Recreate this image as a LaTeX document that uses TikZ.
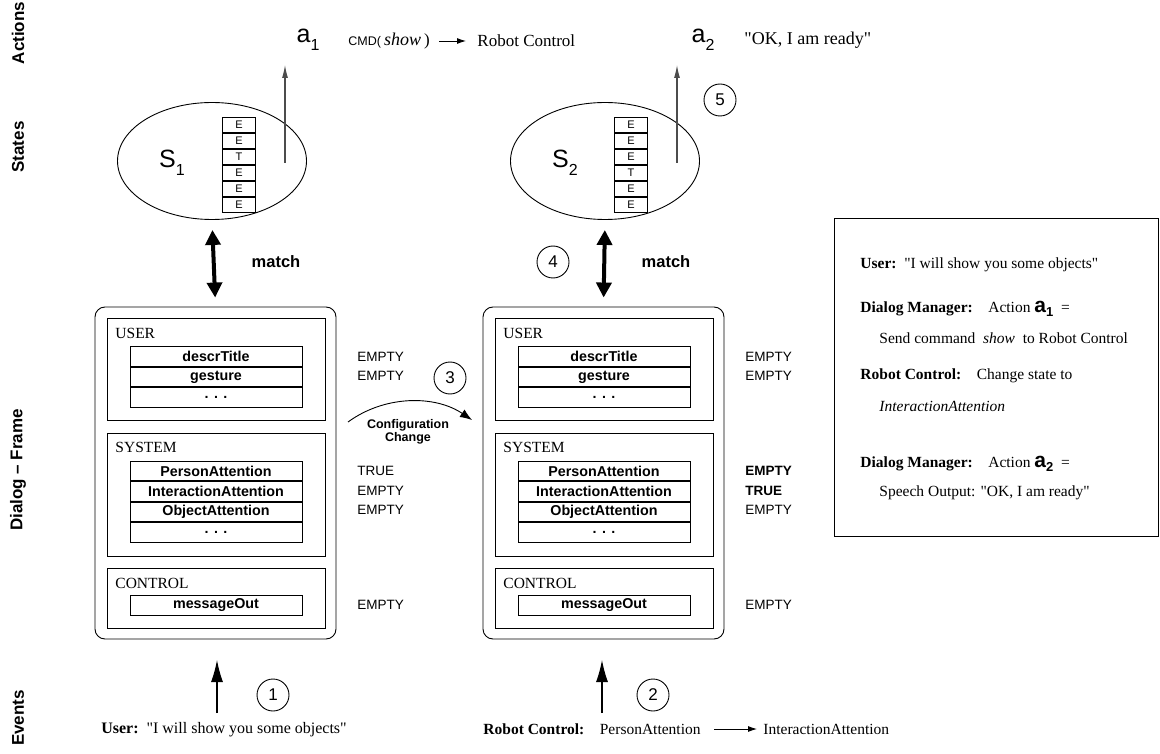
\documentclass[tikz,border=0pt]{standalone}
\usepackage{fontspec}
\setmainfont{Liberation Serif}[Ligatures=TeXOff]
\setsansfont{Liberation Sans}
\usetikzlibrary{arrows.meta,shapes.geometric,positioning}
\newcommand\myfs[1]{\fontsize{#1}{#1}\selectfont}
\begin{document}
\begin{tikzpicture}[x=1pt,y=-1pt,line width=0.9pt,
  sidelabel/.style={rotate=90,font=\sffamily\bfseries\myfs{17}},
  frm/.style={draw,rounded corners=10pt,minimum width=241pt,minimum height=332pt,inner sep=0pt},
  sect/.style={draw,inner sep=0pt,minimum width=218pt},
  field/.style={draw,inner sep=0pt,minimum width=172pt,minimum height=19.6pt,font=\sffamily\bfseries\myfs{14.3}},
  val/.style={anchor=west,inner sep=0pt,font=\sffamily\myfs{13.5}},
  bval/.style={anchor=west,inner sep=0pt,font=\sffamily\bfseries\myfs{13.5}},
  seclabel/.style={anchor=west,inner sep=0pt,font=\myfs{15.5}},
  num/.style={draw,circle,minimum size=32pt,inner sep=0pt,font=\sffamily\myfs{17}},
  cell/.style={draw,minimum width=33pt,minimum height=15.2pt,inner sep=0pt,font=\sffamily\myfs{11}},
  state/.style={draw,ellipse,minimum width=189pt,minimum height=117pt,inner sep=0pt},
  big/.style={inner sep=0pt,font=\sffamily\myfs{25}},
  txt/.style={anchor=west,inner sep=0pt,font=\myfs{15.5}},
  thinarrow/.style={draw=black!70,line width=1.1pt,-{Latex[length=13pt,width=6pt]}},
  evarrow/.style={line width=1.1pt,-{Latex[length=22pt,width=12pt]}},
  matcharrow/.style={line width=4pt,{Triangle[length=15pt,width=15pt]}-{Triangle[length=15pt,width=15pt]}},
  smallarrow/.style={line width=0.9pt,-{Latex[length=9pt,width=6pt]}}
]
\useasboundingbox (0,0) rectangle (1160,754);

% side labels
\node[sidelabel] (lA) at (18,33) {Actions};
\node[sidelabel] (lS) at (18,147) {States};
\node[sidelabel] (lD) at (18,470) {Dialog -- Frame};
\node[sidelabel] (lE) at (18,718) {Events};

% actions
\node[big] (a1) at (308,40) {a\raisebox{-8pt}{\myfs{16}1}};
\node[anchor=west,inner sep=0pt] (cmd) at (348,41) {{\sffamily\myfs{12.5}CMD(}{\myfs{18}\itshape\,show\,}{\myfs{17})}};
\node[anchor=west,inner sep=0pt,font=\myfs{17}] (rc1) at (477,41) {Robot Control};
\draw[smallarrow,shorten <=9pt,shorten >=11pt] (cmd) -- (rc1);
\node[big] (a2) at (703,40) {a\raisebox{-8pt}{\myfs{16}2}};
\node[anchor=west,inner sep=0pt,font=\myfs{18}] (ok) at (744,40) {"OK, I am ready"};

% states
\node[state] (S1) at (212,161) {};
\node[big] (s1l) at (172,163) {S\raisebox{-8pt}{\myfs{16}1}};
\node[cell] (c11) at (239,124.6) {E};
\node[cell,below=0pt of c11] (c12) {E};
\node[cell,below=0pt of c12] (c13) {T};
\node[cell,below=0pt of c13] (c14) {E};
\node[cell,below=0pt of c14] (c15) {E};
\node[cell,below=0pt of c15] (c16) {E};

\node[state] (S2) at (605,161) {};
\node[big] (s2l) at (565,163) {S\raisebox{-8pt}{\myfs{16}2}};
\node[cell] (c21) at (631,124.6) {E};
\node[cell,below=0pt of c21] (c22) {E};
\node[cell,below=0pt of c22] (c23) {E};
\node[cell,below=0pt of c23] (c24) {T};
\node[cell,below=0pt of c24] (c25) {E};
\node[cell,below=0pt of c25] (c26) {E};

\coordinate (act1b) at (285,163);
\coordinate (act1t) at (285,65);
\draw[thinarrow] (act1b) -- (act1t);
\coordinate (act2b) at (677,163);
\coordinate (act2t) at (677,65);
\draw[thinarrow] (act2b) -- (act2t);
\node[num] (n5) at (720,100) {5};

% frames
\node[frm] (F1) at (215.5,473) {};
\node[frm] (F2) at (603.5,473) {};

\draw[matcharrow,shorten <=10pt,shorten >=9pt] (S1.south) -- (F1.north);
\draw[matcharrow,shorten <=10pt,shorten >=9pt] (S2.south) -- (F2.north);
\node[inner sep=0pt,font=\sffamily\bfseries\myfs{16.5}] (m1) at (276,262) {match};
\node[inner sep=0pt,font=\sffamily\bfseries\myfs{16.5}] (m2) at (666,262) {match};
\node[num] (n4) at (553,262) {4};

% left frame content
\node[sect,minimum height=102pt] (U1) at (216,369) {};
\node[seclabel] at (115,333) {USER};
\node[field] (u11) at (216,356.5) {descrTitle};
\node[field,below=0pt of u11] (u12) {gesture};
\node[field,below=0pt of u12] (u13) {. . .};
\node[sect,minimum height=123pt] (Y1) at (216,494.5) {};
\node[seclabel] at (115,447) {SYSTEM};
\node[field] (y11) at (216,471) {PersonAttention};
\node[field,below=0pt of y11] (y12) {InteractionAttention};
\node[field,below=0pt of y12] (y13) {ObjectAttention};
\node[field,below=0pt of y13] (y14) {. . .};
\node[sect,minimum height=60pt] (C1) at (216,598) {};
\node[seclabel] at (115,583) {CONTROL};
\node[field,minimum height=20pt] (m1o) at (216,605) {messageOut};

\node[val] at (357,356.5) {EMPTY};
\node[val] at (357,376) {EMPTY};
\node[val] at (357,471) {TRUE};
\node[val] at (357,490.5) {EMPTY};
\node[val] at (357,510) {EMPTY};
\node[val] at (357,605) {EMPTY};

% right frame content
\node[sect,minimum height=102pt] (U2) at (604,369) {};
\node[seclabel] at (503,333) {USER};
\node[field] (u21) at (604,356.5) {descrTitle};
\node[field,below=0pt of u21] (u22) {gesture};
\node[field,below=0pt of u22] (u23) {. . .};
\node[sect,minimum height=123pt] (Y2) at (604,494.5) {};
\node[seclabel] at (503,447) {SYSTEM};
\node[field] (y21) at (604,471) {PersonAttention};
\node[field,below=0pt of y21] (y22) {InteractionAttention};
\node[field,below=0pt of y22] (y23) {ObjectAttention};
\node[field,below=0pt of y23] (y24) {. . .};
\node[sect,minimum height=60pt] (C2) at (604,598) {};
\node[seclabel] at (503,583) {CONTROL};
\node[field,minimum height=20pt] (m2o) at (604,605) {messageOut};

\node[val] at (745,356.5) {EMPTY};
\node[val] at (745,376) {EMPTY};
\node[bval] at (745,471) {EMPTY};
\node[bval] at (745,490.5) {TRUE};
\node[val] at (745,510) {EMPTY};
\node[val] at (745,605) {EMPTY};

% configuration change
\node[num] (n3) at (450,378) {3};
\coordinate (cc1) at (348,422);
\coordinate (cc2) at (472,420);
\draw[-{Latex[length=12pt,width=9pt]}] (cc1) .. controls (385,395) and (435,395) .. (cc2);
\node[inner sep=0pt,align=center,font=\sffamily\bfseries\myfs{12.5}] (cc) at (408,432) {Configuration\\Change};

% events
\coordinate (e1b) at (217,713);
\coordinate (e1t) at (217,660);
\draw[evarrow] (e1b) -- (e1t);
\node[num] (n1) at (273,695) {1};
\node[inner sep=0pt,font=\myfs{16}] (ev1) at (224,730) {\textbf{User:}\ \ "I will show you some objects"};
\coordinate (e2b) at (602,713);
\coordinate (e2t) at (602,660);
\draw[evarrow] (e2b) -- (e2t);
\node[num] (n2) at (653,695) {2};
\node[txt] (ev2) at (483,729) {\textbf{Robot Control:}\quad PersonAttention};
\node[txt] (ev3) at (763,729) {InteractionAttention};
\draw[smallarrow,shorten <=13pt,shorten >=6pt] (ev2) -- (ev3);

% note box
\node[draw,inner sep=0pt,minimum width=324pt,minimum height=318pt,anchor=north west] (note) at (834,218) {};
\node[txt] (t1) at (860,265) {\textbf{User:}\enspace "I will show you some objects"};
\node[txt] (t2) at (860,309) {\textbf{Dialog Manager:}\quad Action {\sffamily\bfseries\myfs{21}a\raisebox{-4pt}{\myfs{13}1}}\ \ =};
\node[txt] (t3) at (879,338) {Send command \ \textit{show} \ to Robot Control};
\node[txt] (t4) at (860,376) {\textbf{Robot Control:}\quad Change state to};
\node[txt] (t5) at (879,406) {\textit{InteractionAttention}};
\node[txt] (t6) at (860,464) {\textbf{Dialog Manager:}\quad Action {\sffamily\bfseries\myfs{21}a\raisebox{-4pt}{\myfs{13}2}}\ \ =};
\node[txt] (t7) at (879,493) {Speech Output: "OK, I am ready"};
\end{tikzpicture}
\end{document}
